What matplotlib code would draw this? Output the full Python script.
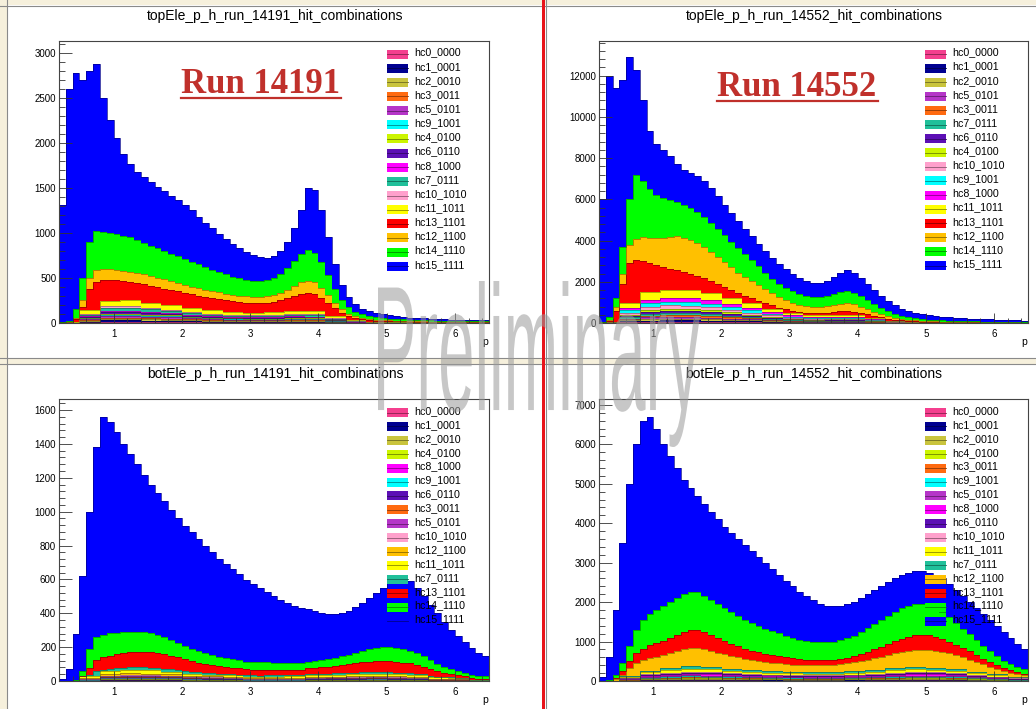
import numpy as np
import matplotlib.pyplot as plt
import matplotlib.colors as mcolors
from matplotlib.patches import Rectangle, PathPatch
from matplotlib.lines import Line2D
from matplotlib.textpath import TextPath
from matplotlib.font_manager import FontProperties
from matplotlib.transforms import Affine2D
from matplotlib.ticker import MultipleLocator

plt.rcParams['font.family'] = ['Liberation Sans', 'DejaVu Sans']

W, H = 1036, 709

# momentum bins: 0.1 wide for the four leading combinations, 0.3 wide for the rest
p_edges = np.round(np.arange(0.2, 6.55, 0.1), 2)
p_edges_coarse = np.round(np.arange(0.2, 6.55, 0.3), 2)

hc_colors = {
    'hc0_0000': '#f43f8e', 'hc1_0001': '#000090', 'hc2_0010': '#c9c43d', 'hc3_0011': '#ff6a10',
    'hc4_0100': '#ccf500', 'hc5_0101': '#b535c8', 'hc6_0110': '#5c0fb5', 'hc7_0111': '#20c09a',
    'hc8_1000': '#ff00ff', 'hc9_1001': '#00ffff', 'hc10_1010': '#ffa0cc', 'hc11_1011': '#ffff00',
    'hc12_1100': '#ffc000', 'hc13_1101': '#ff0000', 'hc14_1110': '#00ff00', 'hc15_1111': '#0000ff',
}

# ---------------- top, run 14191 ----------------
tl_hc15 = [1300,2580,2630,2200,1900,1860,1490,1250,1060,910,810,760,730,710,680,660,640,620,600,570,530,490,460,425,390,365,335,310,290,262,245,240,255,290,360,480,690,700,570,420,270,160,115,85,65,55,48,41,37,32,26,24,22,19,16,15,14,13,11,10,10,9,8]
tl_hc14 = [0,10,90,250,400,430,410,400,400,390,380,365,350,335,325,315,305,295,285,275,265,250,235,225,215,203,193,185,180,178,180,190,210,240,280,320,340,330,290,220,155,105,70,50,40,32,27,24,21,19,18,17,15,14,13,12,12,11,11,10,10,9,9]
tl_hc12 = [0,4,20,70,120,130,120,120,115,115,115,110,110,110,105,105,100,95,90,85,80,80,80,78,75,72,70,69,68,68,69,74,83,95,110,125,135,130,110,85,60,40,27,19,13,10,8,7,7,6,5,4,4,4,4,4,3,4,3,3,3,3,2]
tl_hc13 = [0,0,34,40,240,320,232,232,227,215,205,195,205,190,175,185,170,155,170,155,140,150,135,122,128,118,110,112,108,108,108,118,134,142,167,192,207,192,152,152,92,42,50,28,14,19,13,9,10,8,6,7,6,5,6,5,5,5,5,5,4,4,4]
tl_hc0 = [0,8,15,15,14,12,10,8,7,7,7,8,8,4,2,1,1,0,0,0,0]
tl_hc1 = [0,8,15,15,13,12,10,8,7,7,7,8,8,4,2,1,1,1,0,0,0]
tl_hc2 = [1,10,17,18,16,14,12,10,9,8,8,9,9,5,2,1,1,1,1,0,0]
tl_hc3 = [0,7,12,12,11,10,8,7,6,6,6,7,6,4,1,1,0,0,0,0,0]
tl_hc5 = [1,10,17,17,16,14,12,10,8,8,8,9,9,5,2,1,1,0,0,0,0]
tl_hc9 = [0,8,15,15,13,12,10,8,7,7,7,8,8,4,2,1,0,0,0,0,0]
tl_hc4 = [0,7,12,12,11,10,8,7,6,6,6,7,6,4,1,1,0,0,0,0,0]
tl_hc6 = [1,11,20,20,18,15,13,11,10,9,9,11,10,6,2,1,1,1,1,1,1]
tl_hc8 = [0,7,12,12,11,10,8,7,6,6,6,7,6,4,1,1,0,0,0,0,0]
tl_hc7 = [1,17,30,30,27,23,20,17,15,14,14,16,15,9,3,2,1,1,1,1,1]
tl_hc10 = [1,11,20,20,18,16,13,11,10,9,9,11,10,6,2,1,1,1,1,1,1]
tl_hc11 = [1,36,63,64,57,48,41,36,31,27,31,33,33,18,8,2,4,3,2,2,2]

# ---------------- top, run 14552 ----------------
tr_hc15 = [5940,11700,10200,8100,6900,5100,3900,2800,2500,2350,2150,1850,1700,1700,1750,1750,1700,1600,1500,1400,1300,1200,1150,1100,1050,1000,950,900,850,800,750,700,700,730,820,930,1000,970,870,770,680,570,480,410,350,300,260,230,210,190,178,162,153,142,130,122,113,108,103,97,91,84,77]
tr_hc14 = [0,150,400,1300,2200,3100,2750,2400,2100,1950,1800,1650,1600,1550,1500,1450,1400,1350,1300,1250,1200,1100,1000,900,800,700,650,600,570,520,490,480,480,510,550,590,600,580,530,450,370,300,240,190,155,125,105,85,72,64,56,50,45,41,37,34,31,29,26,24,22,21,19]
tr_hc12 = [0,70,200,500,900,1050,1150,1200,1300,1400,1550,1650,1650,1650,1600,1500,1400,1300,1200,1100,1000,950,850,770,690,600,500,440,390,340,310,290,290,310,340,360,370,350,310,260,210,160,120,90,70,55,45,38,31,27,23,20,18,16,15,13,12,11,11,10,9,8,8]
tr_hc13 = [0,20,540,950,1950,2100,1520,1420,1320,1100,1000,950,900,800,700,750,600,450,550,400,250,350,250,130,260,150,50,180,110,60,120,100,100,100,140,170,180,150,90,160,80,10,90,40,5,35,15,2,17,9,3,8,4,1,6,4,2,5,3,2,4,3,2]
tr_hc0 = [2,38,59,64,64,58,48,38,28,19,15,16,16,10,5,3,2,1,1,1,1]
tr_hc1 = [2,37,60,65,63,57,48,38,28,19,15,16,16,10,5,3,2,1,1,1,1]
tr_hc2 = [3,48,74,80,80,73,60,48,35,24,19,20,20,13,6,3,2,2,1,1,1]
tr_hc5 = [3,47,75,81,79,72,60,48,35,24,19,20,20,13,6,3,2,2,1,1,1]
tr_hc3 = [3,48,74,80,80,73,60,48,35,24,19,20,20,13,6,3,2,2,1,1,1]
tr_hc7 = [4,67,104,112,112,102,84,67,49,34,27,28,28,18,8,5,3,2,2,1,1]
tr_hc6 = [4,66,105,113,111,101,84,67,49,34,27,28,28,18,8,5,3,2,2,1,1]
tr_hc4 = [4,57,89,96,96,87,72,57,42,29,23,24,24,16,7,4,2,2,1,1,1]
tr_hc10 = [6,95,148,160,160,145,120,95,70,48,38,40,40,26,12,7,4,3,2,2,1]
tr_hc9 = [7,105,163,176,176,160,132,105,77,53,42,44,44,29,13,7,4,3,2,2,2]
tr_hc8 = [7,114,178,192,192,174,144,114,84,58,46,48,48,31,14,8,5,4,3,2,2]
tr_hc11 = [15,225,354,384,384,345,288,225,168,114,90,96,96,63,30,14,9,6,5,3,1]

# ---------------- bottom, run 14191 ----------------
bl_hc15 = [10,70,275,560,810,1120,1285,1248,1183,1110,1048,988,932,878,838,802,767,733,710,687,662,635,607,577,556,534,510,484,462,439,415,391,372,353,338,322,310,296,280,268,260,255,260,269,283,303,325,350,399,422,425,412,383,356,326,296,265,232,206,182,159,138,120]
bl_hc14 = [0,0,3,32,110,135,135,132,127,123,120,118,114,111,107,101,95,88,80,73,67,63,58,55,52,49,47,46,46,46,46,45,44,42,41,40,39,39,40,42,45,49,54,60,66,72,78,82,84,84,81,76,69,61,52,44,36,29,23,19,17,17,18]
bl_hc13 = [0,0,1,0,45,65,72,78,84,88,91,92,92,91,88,84,79,74,69,63,58,53,49,45,42,39,37,35,33,32,31,31,31,31,31,32,34,36,39,42,45,49,52,55,59,62,64,65,65,64,61,57,52,46,40,33,27,21,17,13,10,8,6]
bl_hc7 = [0,0,1,0,7,32,10,14,18,14,16,17,18,16,13,18,14,10,15,11,7,12,9,6,9,7,5,8,7,6,7,7,7,6,7,8,6,8,10,7,9,11,9,11,12,11,11,11,12,10,8,12,8,4,10,5,0,7,3,0,4,2,1]
bl_hc0 = [0,1,3,3,3,3,2,2,2,1,1,1,2,2,2,2,2,2,1,1,0]
bl_hc1 = [0,1,3,3,3,3,2,2,2,1,1,1,2,2,2,2,2,2,1,1,0]
bl_hc2 = [0,1,3,3,3,3,2,2,2,1,1,1,2,2,2,2,2,2,1,1,0]
bl_hc4 = [0,1,3,3,3,3,2,2,2,1,1,1,2,2,2,2,2,2,1,1,0]
bl_hc8 = [0,2,3,4,4,3,3,2,2,2,2,2,2,2,2,3,2,2,1,1,0]
bl_hc9 = [0,1,3,3,3,3,2,2,2,1,1,1,2,2,2,2,2,2,1,1,0]
bl_hc6 = [0,2,3,4,4,3,3,2,2,2,2,2,2,2,2,3,2,2,1,1,0]
bl_hc3 = [0,1,3,3,3,3,2,2,2,1,1,1,2,2,2,2,2,2,1,1,0]
bl_hc5 = [0,2,3,4,4,3,3,2,2,2,2,2,2,2,2,3,2,2,1,1,0]
bl_hc10 = [0,2,4,5,4,4,3,3,2,2,2,2,2,3,3,3,3,2,2,1,0]
bl_hc12 = [0,4,9,10,10,8,7,6,5,4,4,4,5,5,6,6,6,5,3,2,1]
bl_hc11 = [0,9,17,20,19,16,13,10,8,8,8,9,9,10,12,12,12,10,7,3,2]

# ---------------- bottom, run 14552 ----------------
br_hc15 = [90,580,1650,3050,4100,4700,5050,5000,4600,4100,3700,3300,2900,2650,2450,2350,2250,2150,2050,2000,1950,1900,1820,1750,1670,1580,1490,1400,1300,1200,1130,1050,960,910,900,870,870,850,850,850,850,850,850,850,850,850,850,850,830,850,850,830,820,820,820,820,820,800,770,730,670,590,500]
br_hc14 = [0,10,70,200,400,600,730,800,840,880,910,930,960,960,950,900,870,850,830,800,770,730,710,670,640,610,580,550,520,490,475,465,460,455,455,465,490,520,570,610,650,680,710,740,780,780,790,780,760,730,690,630,570,500,430,370,310,260,220,180,150,130,110]
br_hc13 = [0,0,40,100,180,250,290,320,340,360,380,410,440,460,460,440,410,380,340,310,280,250,230,215,200,190,180,170,160,150,140,135,130,130,130,135,140,155,175,200,220,250,280,310,330,350,370,375,370,350,320,290,260,230,210,180,150,130,110,90,70,60,50]
br_hc12 = [0,0,30,20,190,320,270,320,360,330,380,430,430,460,470,460,420,370,370,330,290,290,260,235,240,220,200,200,190,180,185,180,180,180,190,205,205,230,260,260,300,340,340,380,420,420,440,445,450,430,400,400,350,300,300,240,180,190,130,80,100,60,30]
br_hc0 = [0,6,13,16,18,17,15,14,12,11,11,11,12,14,16,17,17,15,12,8,5]
br_hc1 = [0,6,13,16,18,17,15,14,12,11,11,11,12,14,16,17,17,15,12,8,5]
br_hc2 = [1,8,16,20,22,21,19,17,15,14,13,13,15,17,19,21,20,18,14,10,7]
br_hc4 = [0,6,13,16,18,17,15,14,12,11,11,11,12,14,16,17,17,15,12,8,5]
br_hc3 = [1,8,16,20,22,21,19,17,15,14,13,13,15,17,19,21,20,18,14,10,7]
br_hc9 = [1,8,16,20,22,21,19,17,15,14,13,13,15,17,19,21,20,18,14,10,7]
br_hc5 = [1,9,18,23,26,24,22,20,17,16,15,16,17,20,22,24,24,21,17,12,8]
br_hc8 = [1,12,23,30,33,31,28,25,22,21,20,20,22,25,29,31,31,27,22,15,10]
br_hc6 = [1,10,21,26,30,28,25,22,20,18,18,18,20,22,26,28,27,24,19,14,9]
br_hc10 = [1,10,21,26,30,28,25,22,20,18,18,18,20,22,26,28,27,24,19,14,9]
br_hc11 = [2,26,52,66,74,70,62,56,50,46,44,45,49,56,64,70,68,60,48,34,22]
br_hc7 = [1,19,39,50,56,52,46,42,38,34,33,34,37,42,48,52,51,45,36,26,16]

# stacking order (bottom first), same as the legend order
tl_order = ['hc0_0000', 'hc1_0001', 'hc2_0010', 'hc3_0011', 'hc5_0101', 'hc9_1001', 'hc4_0100', 'hc6_0110',
            'hc8_1000', 'hc7_0111', 'hc10_1010', 'hc11_1011', 'hc13_1101', 'hc12_1100', 'hc14_1110', 'hc15_1111']
tr_order = ['hc0_0000', 'hc1_0001', 'hc2_0010', 'hc5_0101', 'hc3_0011', 'hc7_0111', 'hc6_0110', 'hc4_0100',
            'hc10_1010', 'hc9_1001', 'hc8_1000', 'hc11_1011', 'hc13_1101', 'hc12_1100', 'hc14_1110', 'hc15_1111']
bl_order = ['hc0_0000', 'hc1_0001', 'hc2_0010', 'hc4_0100', 'hc8_1000', 'hc9_1001', 'hc6_0110', 'hc3_0011',
            'hc5_0101', 'hc10_1010', 'hc12_1100', 'hc11_1011', 'hc7_0111', 'hc13_1101', 'hc14_1110', 'hc15_1111']
br_order = ['hc0_0000', 'hc1_0001', 'hc2_0010', 'hc4_0100', 'hc3_0011', 'hc9_1001', 'hc5_0101', 'hc8_1000',
            'hc6_0110', 'hc10_1010', 'hc11_1011', 'hc7_0111', 'hc12_1100', 'hc13_1101', 'hc14_1110', 'hc15_1111']


def collect(prefix):
    g = globals()
    out = {}
    for name in hc_colors:
        key = prefix + '_' + name.split('_')[0]
        if key in g:
            out[name] = g[key]
    return out


panels = [
    dict(title='topEle_p_h_run_14191_hit_combinations', title_xy=(275, 16), box=(59, 41, 489, 323),
         ymax=3130, major=500, minor=100, order=tl_order, counts=collect('tl'), legend=(387, 54, 14.15)),
    dict(title='topEle_p_h_run_14552_hit_combinations', title_xy=(814, 16), box=(599, 41, 1028, 323),
         ymax=13685, major=2000, minor=400, order=tr_order, counts=collect('tr'), legend=(925, 54, 14.1)),
    dict(title='botEle_p_h_run_14191_hit_combinations', title_xy=(275, 374), box=(59, 399, 489, 681),
         ymax=1665, major=200, minor=40, order=bl_order, counts=collect('bl'), legend=(387, 412.5, 13.9)),
    dict(title='botEle_p_h_run_14552_hit_combinations', title_xy=(814, 374), box=(599, 399, 1028, 681),
         ymax=7150, major=1000, minor=200, order=br_order, counts=collect('br'), legend=(925, 412.5, 13.9)),
]


def fx(x):
    return x / W


def fy(y):
    return 1 - y / H


def darker(c, f=0.55):
    r, g, b = mcolors.to_rgb(c)
    return (r * f, g * f, b * f)


fig = plt.figure(figsize=(W / 100, H / 100), dpi=100)
fig.patch.set_facecolor('white')

# canvas borders
cream = '#f6f0dc'
for (x, y, w, h) in [(0, 0, W, 5), (0, 0, 7, H), (0, 358, W, 6)]:
    fig.add_artist(Rectangle((fx(x), fy(y + h)), w / W, h / H, transform=fig.transFigure,
                             fc=cream, ec='none', zorder=-2))
for (x0, y0, x1, y1) in [(0, 5.5, W, 5.5), (7, 0, 7, H), (0, 358, W, 358), (0, 364, W, 364), (546, 0, 546, H)]:
    fig.add_artist(Line2D([fx(x0), fx(x1)], [fy(y0), fy(y1)], transform=fig.transFigure,
                          color='#8a8a8a', lw=0.8, zorder=-1))
fig.add_artist(Rectangle((fx(541.5), 0), 3 / W, 1, transform=fig.transFigure, fc='#e8141a', ec='none'))

for spec in panels:
    l, t, r, b = spec['box']
    ax = fig.add_axes([fx(l), fy(b), (r - l) / W, (b - t) / H])
    base = np.zeros(len(p_edges) - 1)
    for name in spec['order']:
        vals = np.asarray(spec['counts'][name], dtype=float)
        if len(vals) == len(p_edges_coarse) - 1:
            vals = np.repeat(vals, 3)
        top = base + vals
        ax.stairs(top, p_edges, baseline=base, fill=True, facecolor=hc_colors[name],
                  edgecolor='none', linewidth=0)
        ax.stairs(top, p_edges, baseline=None, color=darker(hc_colors[name]), linewidth=0.5)
        base = top

    ax.set_xlim(0.2, 6.5)
    ax.set_ylim(0, spec['ymax'])
    ax.xaxis.set_major_locator(MultipleLocator(1))
    ax.xaxis.set_minor_locator(MultipleLocator(0.2))
    ax.yaxis.set_major_locator(MultipleLocator(spec['major']))
    ax.yaxis.set_minor_locator(MultipleLocator(spec['minor']))
    ax.tick_params(which='both', direction='in', color='#333333', width=0.6, labelsize=7)
    ax.tick_params(axis='x', which='major', length=7, pad=4.5)
    ax.tick_params(axis='x', which='minor', length=3.5)
    ax.tick_params(axis='y', which='major', length=9, pad=2)
    ax.tick_params(axis='y', which='minor', length=4.5)
    for s in ax.spines.values():
        s.set_linewidth(0.8)
        s.set_color('#444444')

    fig.text(fx(r - 1), fy(b + 19), 'p', fontsize=7.5, ha='right', va='center')
    fig.text(fx(spec['title_xy'][0]), fy(spec['title_xy'][1]), spec['title'],
             fontsize=10, ha='center', va='center')

    # legend: filled box with a line through it, entries in stacking order
    lx, ly0, dy = spec['legend']
    for i, name in enumerate(spec['order']):
        yc = ly0 + i * dy
        fig.add_artist(Rectangle((fx(lx), fy(yc + 4.5)), 21 / W, 9 / H, transform=fig.transFigure,
                                 fc=hc_colors[name], ec='none', zorder=4))
        fig.add_artist(Line2D([fx(lx), fx(lx + 21)], [fy(yc), fy(yc)], transform=fig.transFigure,
                              color=darker(hc_colors[name]), lw=0.6, zorder=4))
        fig.text(fx(lx + 27), fy(yc - 1.5), name, fontsize=7.7, ha='left', va='center', zorder=5)

# run labels
for txt, x0, base_y, w in [('Run 14191', 181, 93, 160), ('Run 14552', 717, 96, 161)]:
    fig.text(fx(x0), fy(base_y), txt, fontsize=25, fontweight='bold', family='Liberation Serif',
             color='#c0302b', ha='left', va='baseline')
    fig.add_artist(Line2D([fx(x0), fx(x0 + w)], [fy(base_y + 5), fy(base_y + 5)], transform=fig.transFigure,
                          color='#c0302b', lw=1.6))

# stretched watermark across the middle
tp = TextPath((0, 0), 'Preliminary', size=100, prop=FontProperties(family='Liberation Sans'))
bb = tp.get_extents()
x0, x1, ytop, ybot = 378, 700, 281, 447
sx = (x1 - x0) / bb.width
sy = (ybot - ytop) / bb.height
trans = Affine2D().translate(-bb.x0, -bb.y0).scale(sx / W, sy / H).translate(fx(x0), fy(ybot))
fig.add_artist(PathPatch(trans.transform_path(tp), transform=fig.transFigure,
                         fc='#9a9a9a', ec='none', alpha=0.55, zorder=10))

fig.savefig('out.png', dpi=100)
